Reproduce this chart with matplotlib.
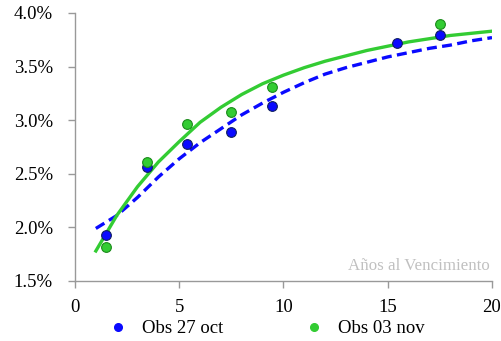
import numpy as np
import matplotlib.pyplot as plt
from matplotlib.lines import Line2D

# observaciones
plazo_obs = [1.5, 3.45, 5.35, 7.5, 9.45, 15.45, 17.5]
obs_27oct = [1.93, 2.56, 2.78, 2.89, 3.13, 3.72, 3.79]
plazo_nov = [1.5, 3.45, 5.35, 7.5, 9.45, 17.5]
obs_03nov = [1.82, 2.61, 2.96, 3.08, 3.31, 3.90]

# curvas ajustadas
plazo_curva = [1, 2, 3, 4, 5, 6, 7, 8, 9, 10, 11, 12, 13, 14, 15, 16, 17, 18, 19, 20]
curva_27oct = [1.99, 2.11, 2.28, 2.47, 2.64, 2.79, 2.92, 3.05, 3.16, 3.26,
               3.35, 3.43, 3.49, 3.54, 3.59, 3.63, 3.67, 3.70, 3.74, 3.77]
curva_03nov = [1.78, 2.11, 2.38, 2.61, 2.80, 2.98, 3.12, 3.24, 3.34, 3.42,
               3.49, 3.55, 3.60, 3.65, 3.69, 3.73, 3.76, 3.79, 3.81, 3.83]

xticks = [0, 5, 10, 15, 20]
yticks = [1.5, 2.0, 2.5, 3.0, 3.5, 4.0]

plt.rcParams['font.family'] = ['Liberation Serif', 'DejaVu Serif']

fig = plt.figure(figsize=(5.01, 3.41), dpi=100)
ax = fig.add_axes([0.1497, 0.176, 0.8323, 0.786])

azul = '#0a0aff'
verde = '#33cc33'

ax.plot(plazo_curva, curva_27oct, color=azul, lw=2.4, ls=(0, (3, 1.6)), zorder=2)
ax.plot(plazo_curva, curva_03nov, color=verde, lw=2.4, zorder=2)
ax.plot(plazo_obs, obs_27oct, 'o', color=azul, mec='#102060', mew=0.8, ms=7, zorder=3)
ax.plot(plazo_nov, obs_03nov, 'o', color=verde, mec='#1a8a1a', mew=0.8, ms=7, zorder=4)

ax.set_xlim(0, 20)
ax.set_ylim(1.5, 4.0)
ax.set_xticks(xticks)
ax.set_yticks(yticks)
ax.set_yticklabels(['%.1f%%' % v for v in yticks])

for s in ['top', 'right']:
    ax.spines[s].set_visible(False)
for s in ['left', 'bottom']:
    ax.spines[s].set_color('#999999')
    ax.spines[s].set_linewidth(1.0)
ax.tick_params(axis='both', direction='out', length=5, width=1, color='#999999',
               labelsize=13.5, labelcolor='black')
ax.tick_params(axis='y', pad=11)
ax.tick_params(axis='x', pad=8)

ax.text(0.995, 0.025, 'Años al Vencimiento', transform=ax.transAxes,
        ha='right', va='bottom', color='#c0c0c0', fontsize=12.2)

handles = [Line2D([], [], ls='none', marker='o', color=azul, ms=5.5),
           Line2D([], [], ls='none', marker='o', color=verde, ms=5.5)]
fig.legend(handles, ['Obs 27 oct', 'Obs 03 nov'], loc='center', bbox_to_anchor=(0.530, 0.036),
           ncol=2, frameon=False, fontsize=13.5, handlelength=1.2, columnspacing=4.27,
           handletextpad=0.65, borderpad=0)

fig.savefig('out.png', dpi=100)
